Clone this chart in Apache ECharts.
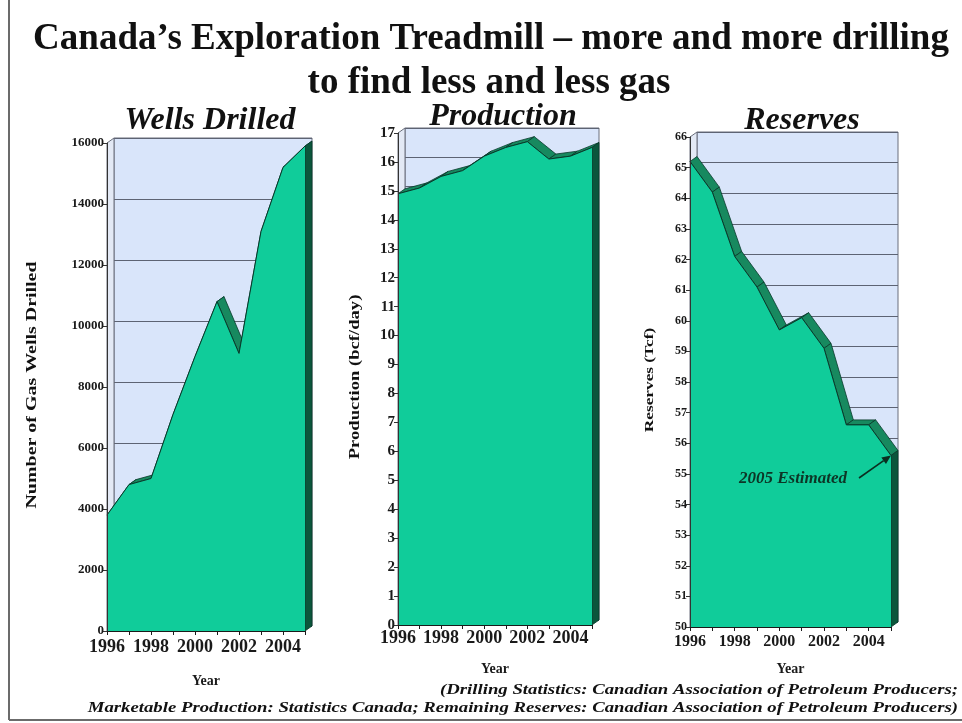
<!DOCTYPE html>
<html>
<head>
<meta charset="utf-8">
<title>Canada's Exploration Treadmill</title>
<script src="https://cdn.jsdelivr.net/npm/echarts@6/dist/echarts.min.js"></script>
<style>
  html, body { margin: 0; padding: 0; background: #ffffff; }
  #chart { width: 962px; height: 723px; }
</style>
</head>
<body>
<div id="chart"></div>
<script>
// ---- data ----
const years = ['1996', '1997', '1998', '1999', '2000', '2001', '2002', '2003', '2004', '2005'];
const wellsDrilled = [3800, 4800, 5000, 7100, 9000, 10800, 9100, 13100, 15200, 15900];
const productionBcfDay = [14.9, 15.1, 15.5, 15.7, 16.2, 16.5, 16.7, 16.1, 16.2, 16.5];
const reservesTcf = [65.2, 64.2, 62.1, 61.1, 59.7, 60.1, 59.1, 56.6, 56.6, 55.6];

// ---- look ----
const DX = 7, DY = 5;               // depth of the 3-D extrusion, px
const FACE = '#10cc9a';
const TOP = '#17895f';
const SIDE = '#0b563c';
const EDGE = '#08392a';
const WALL = '#d9e5fa';
const GRIDLINE = '#5d6373';
const INK = '#1a1a1a';
const SERIF = '"Liberation Serif", "Times New Roman", serif';

const panels = [
  { title: 'Wells Drilled', titleX: 210, titleY: 121, values: wellsDrilled,
    min: 0, max: 16000, step: 2000, yName: 'Number of Gas Wells Drilled',
    yNameX: 32, yNameSize: 15,
    box: { left: 107, top: 143, width: 198, height: 488 },
    yLabelSize: 13, xLabelSize: 18, xNameGap: 43, xLabelMargin: 7 },
  { title: 'Production', titleX: 503, titleY: 117, values: productionBcfDay,
    min: 0, max: 17, step: 1, yName: 'Production (bcf/day)',
    yNameX: 355, yNameSize: 14,
    box: { left: 398, top: 133, width: 194, height: 492 },
    yLabelSize: 15, xLabelSize: 18, xNameGap: 37, xLabelMargin: 4 },
  { title: 'Reserves', titleX: 802, titleY: 121, values: reservesTcf,
    min: 50, max: 66, step: 1, yName: 'Reserves (Tcf)',
    yNameX: 650, yNameSize: 13,
    box: { left: 690, top: 137, width: 201, height: 490 },
    yLabelSize: 12, xLabelSize: 16, xNameGap: 35, xLabelMargin: 7 }
];

const shift = pt => [pt[0] + DX, pt[1] - DY];

// Draws the side wall, the top surface strips and the right end face of the extruded area.
function depthRenderer(panel) {
  const n = panel.values.length;
  return function (params, api) {
    const i = api.value(0);
    const p = api.coord([i, api.value(1)]);
    const children = [];
    if (i === 0) {
      const top = api.coord([0, panel.max]);
      const bot = api.coord([0, panel.min]);
      children.push({
        type: 'polygon',
        shape: { points: [top, shift(top), shift(bot), bot] },
        style: { fill: '#e3e9f5', stroke: '#6a6f7c', lineWidth: 1 }
      });
    }
    if (i < n - 1) {
      const q = api.coord([i + 1, api.value(2)]);
      children.push({
        type: 'polygon',
        shape: { points: [p, q, shift(q), shift(p)] },
        style: { fill: TOP, stroke: EDGE, lineWidth: 0.8 }
      });
    } else {
      const b = api.coord([i, panel.min]);
      children.push({
        type: 'polygon',
        shape: { points: [p, shift(p), shift(b), b] },
        style: { fill: SIDE, stroke: EDGE, lineWidth: 0.8 }
      });
    }
    return { type: 'group', children };
  };
}

const grid = [], xAxis = [], yAxis = [], series = [];

panels.forEach((panel, k) => {
  const b = panel.box;
  const wall = 2 * k, front = 2 * k + 1;

  // back wall with its gridlines
  grid.push({ left: b.left + DX, top: b.top - DY, width: b.width, height: b.height,
              show: true, backgroundColor: WALL, borderColor: '#6a6f7c', borderWidth: 1 });
  // front plane carrying the axes and the area
  grid.push({ left: b.left, top: b.top, width: b.width, height: b.height, show: false });

  xAxis.push({ gridIndex: wall, type: 'category', data: years, boundaryGap: false, show: false });
  yAxis.push({ gridIndex: wall, type: 'value', min: panel.min, max: panel.max, interval: panel.step,
               axisLine: { show: false }, axisTick: { show: false }, axisLabel: { show: false },
               splitLine: { show: true, lineStyle: { color: GRIDLINE, width: 1 } } });

  xAxis.push({
    gridIndex: front, type: 'category', data: years, boundaryGap: false, z: 5,
    axisLine: { show: true, lineStyle: { color: INK, width: 1 } },
    axisTick: { show: true, interval: 0, length: 4, lineStyle: { color: INK } },
    axisLabel: { interval: 1, margin: panel.xLabelMargin, fontFamily: SERIF, fontWeight: 'bold',
                 fontSize: panel.xLabelSize, color: INK },
    name: 'Year', nameLocation: 'middle', nameGap: panel.xNameGap,
    nameTextStyle: { fontFamily: SERIF, fontWeight: 'bold', fontSize: 14, color: INK }
  });
  yAxis.push({
    gridIndex: front, type: 'value', min: panel.min, max: panel.max, interval: panel.step, z: 5,
    axisLine: { show: true, lineStyle: { color: '#333', width: 1 } },
    axisTick: { show: true, length: 4, lineStyle: { color: '#333' } },
    axisLabel: { margin: 3, fontFamily: SERIF, fontWeight: 'bold', fontSize: panel.yLabelSize, color: INK,
                 formatter: v => String(v) },
    splitLine: { show: false }
  });

  const depthData = panel.values.map((v, i) =>
    [i, v, i < panel.values.length - 1 ? panel.values[i + 1] : v]);

  series.push({
    type: 'custom', name: panel.title + ' depth', xAxisIndex: front, yAxisIndex: front,
    data: depthData, encode: { x: 0, y: 1 }, renderItem: depthRenderer(panel),
    clip: false, silent: true, z: 2
  });
  series.push({
    type: 'line', name: panel.title, xAxisIndex: front, yAxisIndex: front,
    data: panel.values, symbol: 'none', silent: true, z: 3,
    lineStyle: { color: EDGE, width: 1 },
    areaStyle: { color: FACE, opacity: 1, origin: 'start' }
  });
});

const chart = echarts.init(document.getElementById('chart'), null, { renderer: 'canvas' });
chart.setOption({
  animation: false,
  backgroundColor: '#ffffff',
  grid, xAxis, yAxis, series
});

function text(x, y, str, font, align, extra) {
  return Object.assign({
    type: 'text', x, y, z: 20, silent: true,
    style: { text: str, font, textAlign: align || 'center', textVerticalAlign: 'middle', fill: '#111' }
  }, extra || {});
}

const graphics = [
  // frame
  { type: 'line', shape: { x1: 9, y1: 0, x2: 9, y2: 720 }, style: { stroke: '#6b6b6b', lineWidth: 2 }, z: 1 },
  { type: 'line', shape: { x1: 9, y1: 720, x2: 962, y2: 720 }, style: { stroke: '#6b6b6b', lineWidth: 2 }, z: 1 },
  text(491, 39, 'Canada\u2019s Exploration Treadmill \u2013 more and more drilling', 'bold 37px ' + SERIF),
  text(489, 83, 'to find less and less gas', 'bold 37px ' + SERIF),
  text(958, 690, '(Drilling Statistics: Canadian Association of Petroleum Producers;',
       'italic bold 14px ' + SERIF, 'right', { scaleX: 1.34 }),
  text(958, 708, 'Marketable Production: Statistics Canada; Remaining Reserves: Canadian Association of Petroleum Producers)',
       'italic bold 14px ' + SERIF, 'right', { scaleX: 1.34 })
];
panels.forEach(panel => {
  const b = panel.box;
  graphics.push(text(panel.titleX, panel.titleY, panel.title, 'italic bold 32px ' + SERIF));
  // vertical axis title, reading upwards
  graphics.push(text(panel.yNameX, b.top + b.height / 2 - 2, panel.yName,
                     'bold ' + panel.yNameSize + 'px ' + SERIF, 'center',
                     { rotation: Math.PI / 2, scaleX: 1.33 }));
});

// "2005 Estimated" call-out pointing at the last reserves value
const tip = chart.convertToPixel({ xAxisIndex: 5, yAxisIndex: 5 }, [years[9], reservesTcf[9]]);
const start = [859, 478];
const ang = Math.atan2(tip[1] - start[1], tip[0] - start[0]);
const hl = 9, hw = 4;
const base = [tip[0] - hl * Math.cos(ang), tip[1] - hl * Math.sin(ang)];
const head = [
  tip,
  [base[0] + hw * Math.sin(ang), base[1] - hw * Math.cos(ang)],
  [base[0] - hw * Math.sin(ang), base[1] + hw * Math.cos(ang)]
];
graphics.push(
  { type: 'line', z: 20, shape: { x1: start[0], y1: start[1], x2: base[0], y2: base[1] },
    style: { stroke: '#0b2e20', lineWidth: 1.6 } },
  { type: 'polygon', z: 20, shape: { points: head }, style: { fill: '#0b2e20' } },
  {
    type: 'text', x: 793, y: 479, z: 20, silent: true,
    style: { text: '2005 Estimated', font: 'italic bold 17px ' + SERIF, textAlign: 'center',
             textVerticalAlign: 'middle', fill: '#0d3526' }
  }
);

chart.setOption({ graphic: { elements: graphics } });
</script>
</body>
</html>
